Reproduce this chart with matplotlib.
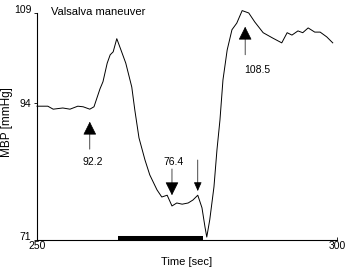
import matplotlib
matplotlib.use("Agg")
import matplotlib.pyplot as plt

plt.rcParams["font.family"] = ["Liberation Sans", "DejaVu Sans"]

# MBP trace
time_s = [250.0, 251.8, 252.7, 254.3, 255.5, 256.8, 257.7, 258.8, 259.5, 260.5,
          261.0, 261.7, 262.2, 262.7, 263.3, 264.0, 264.8, 265.8, 266.3, 267.0,
          268.0, 268.8, 270.0, 270.8, 271.7, 272.5, 273.3, 274.2, 275.2, 276.0,
          276.8, 277.5, 278.0, 278.3, 278.8, 279.5, 280.0, 280.5, 281.0, 281.7,
          282.5, 283.3, 284.2, 285.3, 286.3, 287.7, 289.3, 290.8, 291.7, 292.5,
          293.5, 294.3, 295.2, 296.3, 297.2, 298.3, 299.3]
mbp = [93.4, 93.4, 92.9, 93.1, 92.9, 93.4, 93.3, 92.9, 93.3, 96.3,
       97.5, 100.6, 102.0, 102.5, 104.7, 102.8, 100.6, 96.6, 92.8, 88.1,
       84.4, 81.9, 79.4, 78.2, 78.5, 76.7, 77.2, 77.0, 77.2, 77.7,
       78.5, 76.4, 73.2, 71.5, 74.4, 79.9, 86.1, 91.1, 97.8, 102.8,
       106.2, 107.3, 109.4, 109.0, 107.5, 105.7, 104.8, 104.0, 105.7, 105.3,
       106.0, 105.7, 106.5, 105.8, 105.8, 105.0, 104.0]

# strain period (black bar on the time axis)
strain_start, strain_end = 263.5, 277.7

# annotated arrows: time, tip, tail, label
arrow_t = [258.8, 272.5, 276.8, 284.7]
arrow_tip = [90.8, 78.5, 79.2, 106.7]
arrow_tail = [86.2, 82.9, 84.4, 102.0]
arrow_big = [True, True, False, True]
label_t = [259.3, 272.8, None, 286.8]
label_v = [84.1, 84.1, None, 99.5]
label_txt = ["92.2", "76.4", None, "108.5"]

y_ticks = [71, 94, 109]
x_ticks = [250, 300]

fig = plt.figure(figsize=(3.5, 2.74), dpi=100)
ax = fig.add_axes([0.1057, 0.124, 0.857, 0.8286])

ax.plot(time_s, mbp, color="black", lw=0.7, clip_on=False)
ax.plot([strain_start, strain_end], [71.28, 71.28], color="black", lw=2.9,
        solid_capstyle="butt", clip_on=False)

for t, tip, tail, big in zip(arrow_t, arrow_tip, arrow_tail, arrow_big):
    style = "-|>,head_length=0.7,head_width=0.35" if big else "-|>,head_length=0.45,head_width=0.2"
    ax.annotate("", xy=(t, tip), xytext=(t, tail),
                arrowprops=dict(arrowstyle=style, color="black", lw=0.5,
                                shrinkA=0, shrinkB=0, mutation_scale=12))

for t, v, s in zip(label_t, label_v, label_txt):
    if s:
        ax.text(t, v, s, ha="center", va="center", fontsize=7.5)

ax.text(0.046, 1.004, "Valsalva maneuver", transform=ax.transAxes,
        ha="left", va="center", fontsize=8)

ax.set_xlim(250, 300)
ax.set_ylim(71, 109)
ax.set_xticks(x_ticks)
ax.set_yticks(y_ticks)
ax.tick_params(axis="y", direction="out", length=2.5, width=0.6, pad=1.5, labelsize=7.5)
ax.tick_params(axis="x", direction="in", length=2.5, width=0.6, pad=1, labelsize=7.5)
# the end labels sit on their ticks (baseline) in the original
for lab, v in zip(ax.get_yticklabels(), y_ticks):
    if v != 94:
        lab.set_va("baseline")

ax.spines["top"].set_visible(False)
ax.spines["right"].set_visible(False)
ax.spines["left"].set_linewidth(0.8)
ax.spines["bottom"].set_linewidth(0.8)

ax.set_xlabel("Time [sec]", fontsize=8)
ax.set_ylabel("MBP [mmHg]", fontsize=8.5)
ax.xaxis.set_label_coords(0.5, -0.075)
ax.yaxis.set_label_coords(-0.08, 0.52)

fig.savefig("out.png", dpi=100)
